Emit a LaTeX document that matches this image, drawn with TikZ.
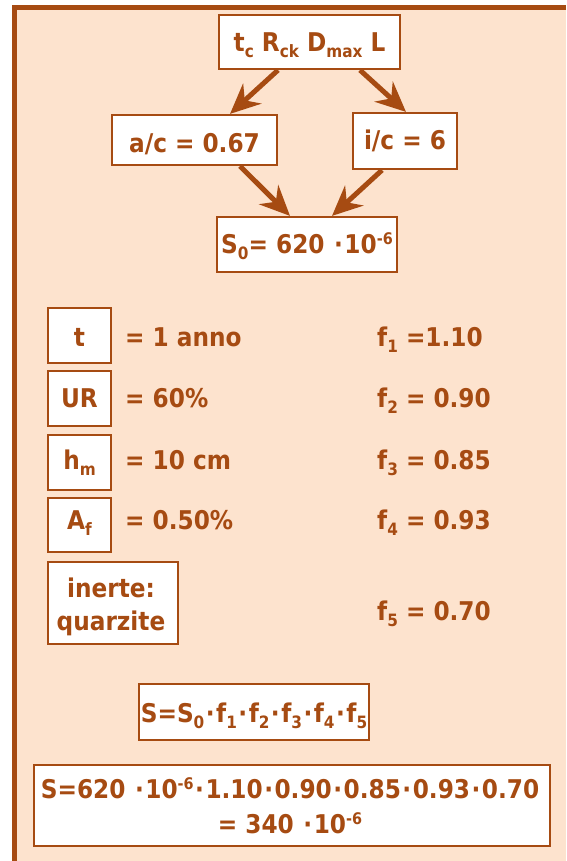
\documentclass[tikz,border=0pt]{standalone}
\usepackage{fontspec}
\setmainfont{DejaVu Sans Condensed}
\usetikzlibrary{arrows.meta}
\definecolor{brn}{RGB}{166,75,18}
\definecolor{peach}{RGB}{253,227,206}
\newcommand\mysub[1]{\raisebox{-6pt}{\fontsize{17}{17}\selectfont #1}}
\newcommand\mysup[1]{\raisebox{8.5pt}{\fontsize{16}{16}\selectfont #1}}
\newcommand\md{{\kern1.5pt·\kern1.5pt}}
\tikzset{
  box/.style={draw=brn, line width=2.2pt, fill=white, inner sep=0pt, text=brn},
  bbox/.style={box, anchor=base},
  txt/.style={anchor=base west, inner sep=0pt, text=brn},
  ctxt/.style={anchor=base, inner sep=0pt, text=brn},
  arr/.style={draw=brn, line width=5pt, -{Stealth[length=30pt,width=27pt,inset=10pt]}}
}
\begin{document}
\begin{tikzpicture}[x=1pt, y=-1pt, font=\fontsize{25.8}{33}\selectfont\bfseries]
\useasboundingbox (0,0) rectangle (566,861);
\fill[white] (0,0) rectangle (566,861);
\fill[peach] (14.5,7.5) rectangle (566,861);
\draw[brn, line width=5pt] (14.5,861) -- (14.5,7.5) -- (566,7.5);
% top diagram
\node[bbox, minimum width=181pt, text height=37pt, text depth=17pt] (top) at (309.5,52)
  {t\mysub{c} R\mysub{ck} D\mysub{max} L};
\node[bbox, minimum width=165pt, text height=38pt, text depth=12pt] (ac) at (194.5,153)
  {a/c = 0.67\hspace{14pt}};
\node[bbox, minimum width=104pt, text height=37pt, text depth=19pt] (ic) at (405,150)
  {i/c = 6};
\node[bbox, minimum width=180pt, text height=36pt, text depth=19pt] (s0) at (307,253)
  {S\mysub{0}= 620 \md10\mysup{-6}};
\draw[arr] ([xshift=-31.5pt]top.south) -- ([xshift=35.5pt]ac.north);
\draw[arr] ([xshift=50.5pt]top.south) -- ([xshift=1pt]ic.north);
\draw[arr] ([xshift=45.5pt]ac.south) -- ([xshift=-17pt]s0.north);
\draw[arr] ([xshift=-23pt]ic.south) -- ([xshift=25pt]s0.north);
% parameter boxes
\node[bbox, minimum width=63pt, text height=38pt, text depth=17pt] (t) at (79.5,346) {t};
\node[bbox, minimum width=63pt, text height=36pt, text depth=19pt] (ur) at (79.5,407) {UR};
\node[bbox, minimum width=63pt, text height=34pt, text depth=21pt] (hm) at (79.5,469) {h\mysub{m}};
\node[bbox, minimum width=63pt, text height=31pt, text depth=23pt] (af) at (79.5,529) {A\mysub{f}};
\node[box, minimum width=130pt, minimum height=82pt] (inerte) at (113,603) {};
\node[ctxt] (inerte1) at (111,597) {inerte:};
\node[ctxt] (inerte2) at (111,630) {quarzite};
% values
\node[txt] (vt) at (125,346) {= 1 anno};
\node[txt] (vur) at (125,407) {= 60\%};
\node[txt] (vhm) at (125,469) {= 10 cm};
\node[txt] (vaf) at (125,529) {= 0.50\%};
\node[txt] (f1) at (377,346) {f\mysub{1} =1.10};
\node[txt] (f2) at (377,407) {f\mysub{2} = 0.90};
\node[txt] (f3) at (377,469) {f\mysub{3} = 0.85};
\node[txt] (f4) at (377,529) {f\mysub{4} = 0.93};
\node[txt] (f5) at (377,620) {f\mysub{5} = 0.70};
% formulas
\node[bbox, minimum width=230pt, text height=38pt, text depth=18pt] (form) at (254,722)
  {S=S\mysub{0}\md f\mysub{1}\md f\mysub{2}\md f\mysub{3}\md f\mysub{4}\md f\mysub{5}};
\node[box, minimum width=516pt, minimum height=81pt] (res) at (292,805.5) {};
\node[ctxt] (res1) at (290,798) {S=620 \md10\mysup{-6}\md 1.10\md 0.90\md 0.85\md 0.93\md 0.70};
\node[ctxt] (res2) at (290,833) {= 340 \md10\mysup{-6}};
\end{tikzpicture}
\end{document}
